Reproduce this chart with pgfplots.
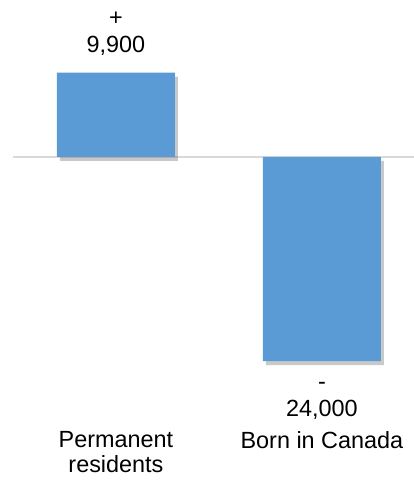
\documentclass[border=0pt]{standalone}
\usepackage{pgfplots}
\pgfplotsset{compat=1.18}
\usepackage{fontspec}
\setmainfont{Liberation Sans}
\usetikzlibrary{shadows}
\definecolor{barblue}{HTML}{5B9BD5}
\definecolor{linegray}{HTML}{D9D9D9}
\begin{document}
\begin{tikzpicture}
\begin{axis}[
  width=414bp, height=481bp, scale only axis,
  hide axis,
  xmin=-0.563, xmax=1.447,
  ymin=-38073, ymax=18449,
  ybar, bar width=118bp, bar shift=0pt,
  clip=false,
]
\addplot[color=linegray, line width=1.5bp, sharp plot] coordinates {(-0.5,0) (1.447,0)};
\addplot[fill=barblue, draw=none, drop shadow={shadow xshift=3bp, shadow yshift=-4bp, opacity=0.3, fill=black!70}] coordinates {(0,9900) (1,-24000)};
\node[align=center, font=\fontsize{23.5}{27}\selectfont] at (axis cs:0,14512) {+\\9,900};
\node[align=center, font=\fontsize{23.5}{27}\selectfont] at (axis cs:1,-28613) {-\\24,000};
\node[align=center, font=\fontsize{23.5}{25}\selectfont] at (axis cs:0,-34724) {Permanent\\residents};
\node[align=center, font=\fontsize{23.5}{25}\selectfont] at (axis cs:1,-33255) {Born in Canada};
\end{axis}
\pgfresetboundingbox
\path (current axis.south west) rectangle (current axis.north east);
\end{tikzpicture}
\end{document}
